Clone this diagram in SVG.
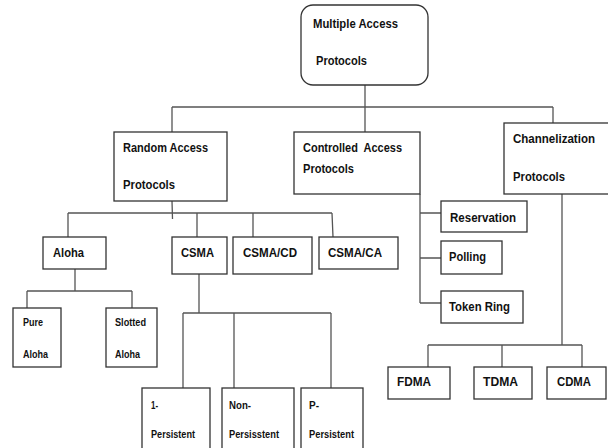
<svg xmlns="http://www.w3.org/2000/svg" width="608" height="448" viewBox="0 0 608 448">
<style>
  .box { fill: #ffffff; stroke: #333333; stroke-width: 1.3; }
  .ln { fill: none; stroke: #555555; stroke-width: 1.3; }
  .t { font-family: "Liberation Sans", Arial, sans-serif; font-weight: bold; font-size: 13.5px; fill: #111111; white-space: pre; }
  .s { font-size: 11px; }
</style>
<rect width="608" height="448" fill="#ffffff"/>
<g id="connectors">
  <path class="ln" d="M365 85 V107 M172 107 H553 M172 107 V132 M365 107 V132 M553 107 V123"/>
  <path class="ln" d="M172 201 L172.5 219 M68 213 H332 M68 213 V237 M197 213 V237 M253 213 V237 M332 213 L333 237"/>
  <path class="ln" d="M75 269 V291 M27 291 H132 M27 291 V308 M132 291 V308"/>
  <path class="ln" d="M199 274 V313 M183 313 H331 M183 313 V388 M234 313 V388 M331 313 V388"/>
  <path class="ln" d="M420 194 V303 M420 213 H441 M420 258 H441 M420 303 H441"/>
  <path class="ln" d="M562 194 V345 M428 345 H582 M428 345 V367 M502 345 V367 M582 345 V367"/>
</g>
<g id="mac">
  <rect class="box" x="301" y="5" width="127" height="80" rx="12"/>
  <text class="t" x="313" y="28" textLength="85" lengthAdjust="spacingAndGlyphs">Multiple Access</text>
  <text class="t" x="316" y="65" textLength="51" lengthAdjust="spacingAndGlyphs">Protocols</text>
</g>
<g id="random">
  <rect class="box" x="114" y="132" width="113" height="69"/>
  <text class="t" x="123" y="152" textLength="85" lengthAdjust="spacingAndGlyphs">Random Access</text>
  <text class="t" x="123" y="189" textLength="52" lengthAdjust="spacingAndGlyphs">Protocols</text>
</g>
<g id="controlled">
  <rect class="box" x="294" y="132" width="126" height="62"/>
  <text class="t" x="303" y="152" textLength="99" lengthAdjust="spacingAndGlyphs">Controlled  Access</text>
  <text class="t" x="303" y="173" textLength="51" lengthAdjust="spacingAndGlyphs">Protocols</text>
</g>
<g id="channelization">
  <rect class="box" x="504" y="123" width="110" height="71"/>
  <text class="t" x="513" y="143" textLength="82" lengthAdjust="spacingAndGlyphs">Channelization</text>
  <text class="t" x="513" y="181" textLength="52" lengthAdjust="spacingAndGlyphs">Protocols</text>
</g>
<g id="aloha">
  <rect class="box" x="43" y="237" width="63" height="32"/>
  <text class="t" x="53" y="257" textLength="31" lengthAdjust="spacingAndGlyphs">Aloha</text>
</g>
<g id="csma">
  <rect class="box" x="172" y="237" width="55" height="37"/>
  <text class="t" x="181" y="257" textLength="33" lengthAdjust="spacingAndGlyphs">CSMA</text>
</g>
<g id="csmacd">
  <rect class="box" x="233" y="237" width="79" height="37"/>
  <text class="t" x="243" y="257" textLength="54" lengthAdjust="spacingAndGlyphs">CSMA/CD</text>
</g>
<g id="csmaca">
  <rect class="box" x="319" y="237" width="79" height="32"/>
  <text class="t" x="328" y="257" textLength="54" lengthAdjust="spacingAndGlyphs">CSMA/CA</text>
</g>
<g id="pure">
  <rect class="box" x="13" y="308" width="48" height="59"/>
  <text class="t s" x="23" y="326" textLength="20" lengthAdjust="spacingAndGlyphs">Pure</text>
  <text class="t s" x="23" y="358" textLength="25" lengthAdjust="spacingAndGlyphs">Aloha</text>
</g>
<g id="slotted">
  <rect class="box" x="106" y="308" width="51" height="59"/>
  <text class="t s" x="115" y="326" textLength="31" lengthAdjust="spacingAndGlyphs">Slotted</text>
  <text class="t s" x="115" y="358" textLength="25" lengthAdjust="spacingAndGlyphs">Aloha</text>
</g>
<g id="p1">
  <rect class="box" x="142" y="388" width="68" height="80"/>
  <text class="t s" x="151" y="409" textLength="7" lengthAdjust="spacingAndGlyphs">1-</text>
  <text class="t s" x="151" y="438" textLength="44" lengthAdjust="spacingAndGlyphs">Persistent</text>
</g>
<g id="nonp">
  <rect class="box" x="222" y="388" width="72" height="80"/>
  <text class="t s" x="229" y="409" textLength="22" lengthAdjust="spacingAndGlyphs">Non-</text>
  <text class="t s" x="229" y="438" textLength="50" lengthAdjust="spacingAndGlyphs">Persisstent</text>
</g>
<g id="pp">
  <rect class="box" x="301" y="388" width="62" height="80"/>
  <text class="t s" x="309" y="409" textLength="10" lengthAdjust="spacingAndGlyphs">P-</text>
  <text class="t s" x="309" y="438" textLength="45" lengthAdjust="spacingAndGlyphs">Persistent</text>
</g>
<g id="reservation">
  <rect class="box" x="441" y="201" width="86" height="31"/>
  <text class="t" x="450" y="222" textLength="66" lengthAdjust="spacingAndGlyphs">Reservation</text>
</g>
<g id="polling">
  <rect class="box" x="441" y="241" width="61" height="33"/>
  <text class="t" x="449" y="261" textLength="37" lengthAdjust="spacingAndGlyphs">Polling</text>
</g>
<g id="tokenring">
  <rect class="box" x="441" y="291" width="82" height="32"/>
  <text class="t" x="449" y="311" textLength="61" lengthAdjust="spacingAndGlyphs">Token Ring</text>
</g>
<g id="fdma">
  <rect class="box" x="388" y="367" width="62" height="32"/>
  <text class="t" x="397" y="386" textLength="34" lengthAdjust="spacingAndGlyphs">FDMA</text>
</g>
<g id="tdma">
  <rect class="box" x="474" y="367" width="58" height="32"/>
  <text class="t" x="483" y="386" textLength="35" lengthAdjust="spacingAndGlyphs">TDMA</text>
</g>
<g id="cdma">
  <rect class="box" x="547" y="367" width="59" height="32"/>
  <text class="t" x="557" y="386" textLength="34" lengthAdjust="spacingAndGlyphs">CDMA</text>
</g>
</svg>
